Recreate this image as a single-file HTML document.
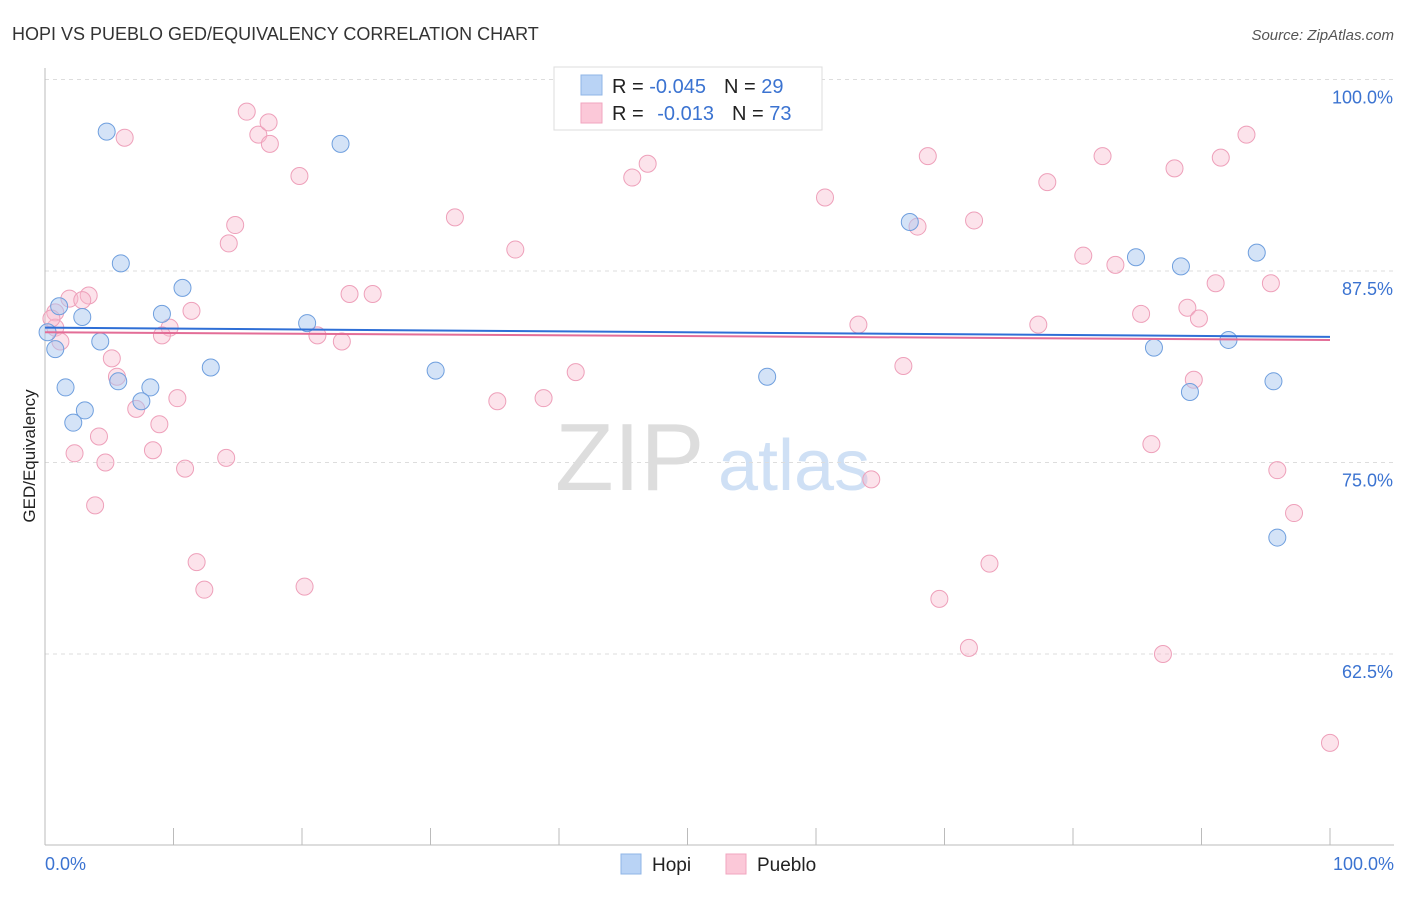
<!DOCTYPE html>
<html><head><meta charset="utf-8"><style>
body{margin:0;background:#fff;font-family:"Liberation Sans",sans-serif}
svg text{font-family:"Liberation Sans",sans-serif}
</style></head><body>
<svg id="chart" width="1406" height="892">
<text x="12" y="40" font-size="18" fill="#333">HOPI VS PUEBLO GED/EQUIVALENCY CORRELATION CHART</text>
<text x="1394" y="40" font-size="15" fill="#555" font-style="italic" text-anchor="end">Source: ZipAtlas.com</text>
<text x="35" y="456" font-size="17" fill="#222" text-anchor="middle" transform="rotate(-90 35 456)">GED/Equivalency</text>
<text x="555" y="490" font-size="96" fill="#ddd" font-family="Liberation Serif">ZIP</text>
<text x="718" y="490" font-size="72" fill="#cfe0f5">atlas</text>
<g id="grid"></g><g id="marks"></g>
<g>
<rect x="554" y="67" width="268" height="63" fill="#fff" stroke="#ddd"/>
<rect x="581" y="75" width="21" height="20" fill="#b9d3f5" stroke="#8fb4e6"/>
<rect x="581" y="103" width="21" height="20" fill="#fbc8d8" stroke="#f0a6bf"/>
<text x="612" y="93" font-size="20" fill="#222">R = <tspan fill="#3b73d1">-0.045</tspan><tspan dx="18">N = </tspan><tspan fill="#3b73d1">29</tspan></text>
<text x="612" y="120" font-size="20" fill="#222">R = <tspan dx="8" fill="#3b73d1">-0.013</tspan><tspan dx="18">N = </tspan><tspan fill="#3b73d1">73</tspan></text>
</g>
<g>
<rect x="621" y="854" width="20" height="20" fill="#b9d3f5" stroke="#8fb4e6"/>
<text x="652" y="871" font-size="19" fill="#222">Hopi</text>
<rect x="726" y="854" width="20" height="20" fill="#fbc8d8" stroke="#f0a6bf"/>
<text x="757" y="871" font-size="19" fill="#222">Pueblo</text>
</g>
</svg>
<script>
const yTicks=[100,87.5,75,62.5];
const yTickLabels=["100.0%","87.5%","75.0%","62.5%"];
const hopiX=[4.8,5.9,23.0,10.7,1.1,2.9,9.1,20.4,0.2,0.8,4.3,1.6,5.7,8.2,12.9,7.5,3.1,2.2,30.4,56.2,67.3,84.9,88.4,94.3,86.3,92.1,89.1,95.6,95.9];
const hopiY=[96.6,88.0,95.8,86.4,85.2,84.5,84.7,84.1,83.5,82.4,82.9,79.9,80.3,79.9,81.2,79.0,78.4,77.6,81.0,80.6,90.7,88.4,87.8,88.7,82.5,83.0,79.6,80.3,70.1];
const puebloX=[15.7,6.2,16.6,17.4,17.5,19.8,14.8,14.3,31.9,36.6,45.7,46.9,60.7,68.7,67.9,72.3,78.0,82.3,87.9,91.5,93.5,80.8,83.3,91.1,95.4,3.4,1.9,2.9,11.4,23.7,25.5,0.8,0.8,9.7,9.1,21.2,23.1,1.2,63.3,77.3,85.3,88.9,89.8,5.2,5.6,10.3,7.1,8.9,4.2,8.4,2.3,4.7,10.9,14.1,41.3,35.2,38.8,66.8,89.4,86.1,64.3,95.9,97.2,3.9,11.8,12.4,20.2,73.5,69.6,71.9,87.0,100,0.5];
const puebloY=[97.9,96.2,96.4,97.2,95.8,93.7,90.5,89.3,91.0,88.9,93.6,94.5,92.3,95.0,90.4,90.8,93.3,95.0,94.2,94.9,96.4,88.5,87.9,86.7,86.7,85.9,85.7,85.6,84.9,86.0,86.0,84.8,83.8,83.8,83.3,83.3,82.9,82.9,84.0,84.0,84.7,85.1,84.4,81.8,80.6,79.2,78.5,77.5,76.7,75.8,75.6,75.0,74.6,75.3,80.9,79.0,79.2,81.3,80.4,76.2,73.9,74.5,71.7,72.2,68.5,66.7,66.9,68.4,66.1,62.9,62.5,56.7,84.4];
const hopiTrend=[83.8,83.2];
const puebloTrend=[83.5,83.0];
const NS="http://www.w3.org/2000/svg";
const sx=v=>45+v*12.85, sy=v=>79.5+(100-v)*15.32;
function mk(tag,attrs,parent){const e=document.createElementNS(NS,tag);for(const k in attrs)e.setAttribute(k,attrs[k]);parent.appendChild(e);return e;}
const grid=document.getElementById('grid'), marks=document.getElementById('marks');
yTicks.forEach((t,i)=>{
 const l=mk('line',{x1:45,x2:1394,y1:sy(t),y2:sy(t),stroke:'#ddd','stroke-dasharray':'4,4'},grid);
 
 
 const tx=mk('text',{x:1393,y:sy(t)+24,'font-size':18,fill:'#3b73d1','text-anchor':'end'},grid);
 tx.textContent=yTickLabels[i];
 
 
});
const ax=mk('line',{x1:45,x2:1394,y1:845,y2:845,stroke:'#bbb'},grid);


const ay=mk('line',{x1:45,x2:45,y1:68,y2:845,stroke:'#bbb'},grid);


for(let i=0;i<=10;i++){const t=mk('line',{x1:sx(i*10),x2:sx(i*10),y1:828,y2:845,stroke:'#bbb'},grid);
 
 }
const xl=mk('text',{x:45,y:870,'font-size':18,fill:'#3b73d1'},grid);xl.textContent='0.0%';


const xr=mk('text',{x:1394,y:870,'font-size':18,fill:'#3b73d1','text-anchor':'end'},grid);xr.textContent='100.0%';


function pts(X,Y,fill,stroke,name){X.forEach((x,i)=>{const c=mk('circle',{cx:sx(x),cy:sy(Y[i]),r:8.5,fill:fill,stroke:stroke,'stroke-width':1},marks);
 
 });}
pts(puebloX,puebloY,'rgba(247,184,204,0.4)','#eea0ba','pueblo-point');
pts(hopiX,hopiY,'rgba(169,200,240,0.5)','#6f9fde','hopi-point');
const tb=mk('line',{x1:sx(0),x2:sx(100),y1:sy(hopiTrend[0]),y2:sy(hopiTrend[1]),stroke:'#2f6fd6','stroke-width':2},marks);


const tp=mk('line',{x1:sx(0),x2:sx(100),y1:sy(puebloTrend[0]),y2:sy(puebloTrend[1]),stroke:'#e36d97','stroke-width':2},marks);


</script>
</body></html>
